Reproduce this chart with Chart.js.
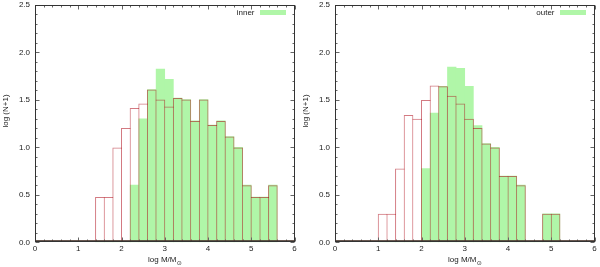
<!DOCTYPE html>
<html><head><meta charset="utf-8">
<script src="https://cdn.jsdelivr.net/npm/chart.js@4.4.1/dist/chart.umd.min.js"></script>
<style>
html,body{margin:0;padding:0;background:#fff;width:600px;height:267px;overflow:hidden}
.p{position:absolute;top:0;width:300px;height:267px}
</style></head><body>
<div class="p" style="left:0"><canvas id="c1" width="300" height="267"></canvas></div>
<div class="p" style="left:300px"><canvas id="c2" width="300" height="267"></canvas></div>
<script>
// ---- data ----
const xTickValues = [0, 1, 2, 3, 4, 5, 6];
const yTickValues = [0.0, 0.5, 1.0, 1.5, 2.0, 2.5];
const binWidth = 0.2;

const innerBins = [1.5, 1.7, 1.9, 2.1, 2.3, 2.5, 2.7, 2.9, 3.1, 3.3, 3.5, 3.7, 3.9, 4.1, 4.3, 4.5, 4.7, 4.9, 5.1, 5.3, 5.5];
const innerAll  = [0.477, 0.477, 1.0, 1.204, 1.415, 1.462, 1.61, 1.505, 1.431, 1.519, 1.505, 1.279, 1.505, 1.236, 1.279, 1.114, 1.0, 0.602, 0.477, 0.477, 0.602];
const innerSel  = [0, 0, 0, 0, 0.602, 1.301, 1.61, 1.826, 1.716, 1.519, 1.505, 1.279, 1.505, 1.236, 1.279, 1.114, 1.0, 0.602, 0.477, 0.477, 0.602];

const outerBins = [1.1, 1.3, 1.5, 1.7, 1.9, 2.1, 2.3, 2.5, 2.7, 2.9, 3.1, 3.3, 3.5, 3.7, 3.9, 4.1, 4.3, 4.5, 4.7, 4.9, 5.1];
const outerAll  = [0.301, 0.301, 0.778, 1.342, 1.301, 1.5, 1.653, 1.643, 1.544, 1.462, 1.301, 1.204, 1.041, 1.0, 0.699, 0.699, 0.602, 0, 0, 0.301, 0.301];
const outerSel  = [0, 0, 0, 0, 0, 0.778, 1.362, 1.643, 1.845, 1.833, 1.643, 1.23, 1.041, 1.0, 0.699, 0.699, 0.602, 0, 0, 0.301, 0.301];

const FONT = '"Liberation Sans", Arial, sans-serif';
const GREEN = 'rgb(176,246,168)';
const RED = 'rgba(170,0,15,0.52)';

// layout constants
const CANVAS_W = 300, Y_AXIS_W = 35, PAD_R = 5.5, PAD_T = 5, X_AXIS_H = 24.7;
const X_MIN = 0, X_MAX = 6;
const binPx = (CANVAS_W - Y_AXIS_W - PAD_R) * binWidth / (X_MAX - X_MIN);

Chart.defaults.font.family = FONT;
Chart.defaults.font.size = 8;
Chart.defaults.color = '#222';

const framePlugin = {
  id: 'frame',
  afterDraw(chart) {
    const { ctx, chartArea: a, scales: { x, y } } = chart;
    ctx.save();
    const L = Math.round(a.left) + 0.5, R = Math.round(a.right) - 0.5;
    const T = Math.round(a.top) + 0.5, B = Math.round(a.bottom) - 0.5;
    ctx.strokeStyle = '#666';
    ctx.lineWidth = 1;
    ctx.beginPath();
    for (let i = 0; i <= 30; i++) {
      const px = Math.round(x.getPixelForValue(i / 5)) + 0.5;
      const len = (i % 5 === 0) ? 4 : 2;
      ctx.moveTo(px, B); ctx.lineTo(px, B - len);
      ctx.moveTo(px, T); ctx.lineTo(px, T + len);
    }
    for (let i = 0; i <= 25; i++) {
      const py = Math.round(y.getPixelForValue(i / 10)) + 0.5;
      const len = (i % 5 === 0) ? 4 : 2;
      ctx.moveTo(L, py); ctx.lineTo(L + len, py);
      ctx.moveTo(R, py); ctx.lineTo(R - len, py);
    }
    ctx.stroke();
    ctx.strokeStyle = '#333';
    ctx.strokeRect(L, T, R - L, B - T);
    ctx.strokeStyle = 'rgba(80,60,50,0.85)';
    ctx.beginPath(); ctx.moveTo(L, B - 1); ctx.lineTo(R, B - 1); ctx.stroke();

    // legend
    const ds = chart.data.datasets[1];
    ctx.fillStyle = '#222';
    ctx.font = '8px ' + FONT;
    ctx.textAlign = 'right';
    ctx.textBaseline = 'middle';
    ctx.fillText(ds.label, a.right - 40, 13);
    ctx.fillStyle = GREEN;
    ctx.fillRect(a.right - 34.5, 10, 26, 5);

    // y title
    ctx.save();
    ctx.fillStyle = '#222';
    ctx.translate(6, 111);
    ctx.rotate(-Math.PI / 2);
    ctx.textAlign = 'center';
    ctx.textBaseline = 'middle';
    ctx.fillText('log (N+1)', 0, 0);
    ctx.restore();

    // x title with subscript
    const main = 'log M/M', sub = '\u2299';
    ctx.font = '8px ' + FONT;
    const w1 = ctx.measureText(main).width;
    ctx.font = '6px "DejaVu Sans", ' + FONT;
    const w2 = ctx.measureText(sub).width;
    const cx = (a.left + a.right) / 2;
    const sx = cx - (w1 + w2) / 2;
    ctx.textAlign = 'left';
    ctx.textBaseline = 'alphabetic';
    ctx.fillStyle = '#222';
    ctx.font = '8px ' + FONT;
    ctx.fillText(main, sx, 262);
    ctx.font = '6px "DejaVu Sans", ' + FONT;
    ctx.fillText(sub, sx + w1 + 0.3, 264.5);
    ctx.restore();
  }
};

function outlineWidth(values) {
  // draw each shared edge once, as part of the taller neighbour
  return ctx => {
    const i = ctx.dataIndex;
    const h = values[i];
    if (!h) return 0;
    const prev = i > 0 ? values[i - 1] : 0;
    const next = i < values.length - 1 ? values[i + 1] : 0;
    return { top: 1, bottom: 0, left: prev <= h ? 1 : 0, right: next < h ? 1 : 0 };
  };
}

function noPad(s) { s.paddingTop = 0; s.paddingBottom = 0; s.paddingLeft = 0; s.paddingRight = 0; }

function makeChart(id, bins, all, sel, label) {
  return new Chart(document.getElementById(id), {
    type: 'bar',
    data: {
      datasets: [
        {
          label: 'all',
          data: bins.map((b, i) => ({ x: b, y: all[i] })),
          backgroundColor: 'rgba(0,0,0,0)',
          borderColor: RED,
          borderWidth: outlineWidth(all),
          borderSkipped: false,
          inflateAmount: 0,
          barThickness: binPx + 1,
          grouped: false
        },
        {
          label: label,
          data: bins.map((b, i) => ({ x: b, y: sel[i] })),
          backgroundColor: GREEN,
          borderWidth: 0,
          barThickness: binPx,
          inflateAmount: 0.3,
          grouped: false
        }
      ]
    },
    options: {
      responsive: false,
      animation: false,
      events: [],
      layout: { padding: { left: 0, right: PAD_R, top: PAD_T, bottom: 0 } },
      plugins: { legend: { display: false }, tooltip: { enabled: false } },
      scales: {
        x: {
          type: 'linear', min: X_MIN, max: X_MAX, offset: false,
          afterBuildTicks: s => { s.ticks = xTickValues.map(v => ({ value: v })); },
          ticks: { padding: 2, callback: v => String(v), maxRotation: 0, autoSkip: false },
          grid: { display: false, drawTicks: false, offset: false },
          border: { display: false },
          afterFit: s => { s.height = X_AXIS_H; noPad(s); }
        },
        y: {
          type: 'linear', min: 0, max: 2.5,
          afterBuildTicks: s => { s.ticks = yTickValues.map(v => ({ value: v })); },
          ticks: { padding: 5, callback: v => Number(v).toFixed(1) },
          grid: { display: false, drawTicks: false },
          border: { display: false },
          afterFit: s => { s.width = Y_AXIS_W; noPad(s); }
        }
      }
    },
    plugins: [framePlugin]
  });
}

makeChart('c1', innerBins, innerAll, innerSel, 'inner');
makeChart('c2', outerBins, outerAll, outerSel, 'outer');
</script>
</body></html>
